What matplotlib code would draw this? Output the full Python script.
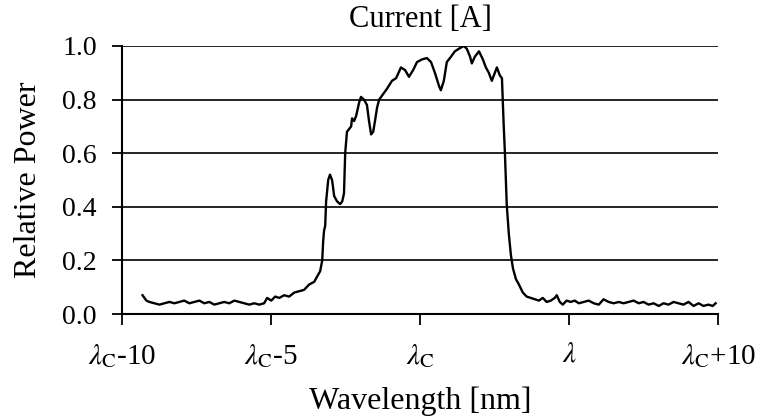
import matplotlib
matplotlib.use("Agg")
import matplotlib.pyplot as plt

# wavelength offset from the centre wavelength (nm) and relative power
offset_nm = [
    -9.31, -9.18, -9.08, -8.91, -8.74, -8.58, -8.41, -8.24, -8.07, -7.91,
    -7.74, -7.57, -7.40, -7.24, -7.07, -6.90, -6.73, -6.57, -6.40, -6.23,
    -6.06, -5.90, -5.73, -5.56, -5.39, -5.23, -5.13, -4.99, -4.86, -4.72,
    -4.56, -4.39, -4.22, -4.05, -3.89, -3.72, -3.55, -3.45, -3.35, -3.28,
    -3.25, -3.22, -3.18, -3.15, -3.08, -3.02, -2.95, -2.88, -2.78, -2.68,
    -2.61, -2.55, -2.51, -2.45, -2.38, -2.31, -2.28, -2.21, -2.14, -2.04,
    -1.98, -1.88, -1.78, -1.71, -1.64, -1.57, -1.51, -1.44, -1.37, -1.24,
    -1.11, -0.94, -0.80, -0.64, -0.50, -0.37, -0.23, -0.10, 0.07, 0.23,
    0.37, 0.50, 0.64, 0.70, 0.80, 0.90, 1.04, 1.17, 1.31, 1.47,
    1.57, 1.68, 1.74, 1.84, 1.98, 2.11, 2.21, 2.31, 2.41, 2.51,
    2.58, 2.68, 2.75, 2.81, 2.85, 2.88, 2.91, 2.98, 3.05, 3.12,
    3.22, 3.32, 3.45, 3.58, 3.72, 3.85, 3.99, 4.12, 4.25, 4.39,
    4.52, 4.59, 4.69, 4.79, 4.92, 5.06, 5.19, 5.33, 5.49, 5.66,
    5.83, 6.00, 6.16, 6.33, 6.50, 6.67, 6.83, 7.00, 7.17, 7.34,
    7.50, 7.67, 7.84, 8.01, 8.17, 8.34, 8.51, 8.68, 8.84, 9.01,
    9.18, 9.35, 9.51, 9.68, 9.82, 9.92,
]
power = [
    0.070, 0.050, 0.045, 0.040, 0.035, 0.040, 0.045, 0.040, 0.045, 0.050,
    0.040, 0.045, 0.050, 0.040, 0.045, 0.035, 0.040, 0.045, 0.040, 0.050,
    0.045, 0.040, 0.035, 0.040, 0.035, 0.040, 0.060, 0.050, 0.065, 0.060,
    0.070, 0.065, 0.080, 0.085, 0.090, 0.110, 0.120, 0.140, 0.160, 0.200,
    0.270, 0.310, 0.330, 0.420, 0.500, 0.520, 0.500, 0.440, 0.420, 0.410,
    0.420, 0.450, 0.600, 0.680, 0.690, 0.700, 0.730, 0.720, 0.740, 0.790,
    0.810, 0.800, 0.780, 0.720, 0.670, 0.680, 0.720, 0.770, 0.800, 0.820,
    0.840, 0.870, 0.880, 0.920, 0.910, 0.885, 0.910, 0.940, 0.950, 0.955,
    0.940, 0.900, 0.850, 0.835, 0.870, 0.940, 0.960, 0.980, 0.990, 1.000,
    0.990, 0.960, 0.935, 0.960, 0.980, 0.950, 0.920, 0.900, 0.870, 0.900,
    0.920, 0.890, 0.880, 0.700, 0.600, 0.500, 0.410, 0.300, 0.220, 0.170,
    0.130, 0.110, 0.080, 0.065, 0.060, 0.055, 0.050, 0.060, 0.045, 0.050,
    0.060, 0.070, 0.045, 0.035, 0.050, 0.045, 0.050, 0.040, 0.045, 0.050,
    0.040, 0.035, 0.055, 0.045, 0.040, 0.045, 0.040, 0.045, 0.050, 0.040,
    0.045, 0.035, 0.040, 0.030, 0.040, 0.035, 0.045, 0.040, 0.035, 0.045,
    0.030, 0.040, 0.030, 0.035, 0.030, 0.040,
]

x_ticks = [-10, -5, 0, 5, 10]
x_labels = [r"$\lambda_{\mathrm{C}}$-10", r"$\lambda_{\mathrm{C}}$-5",
            r"$\lambda_{\mathrm{C}}$", r"$\lambda$", r"$\lambda_{\mathrm{C}}$+10"]
y_ticks = [0.0, 0.2, 0.4, 0.6, 0.8, 1.0]

plt.rcParams["font.family"] = ["Liberation Serif", "DejaVu Serif"]
plt.rcParams["mathtext.fontset"] = "stix"

fig = plt.figure(figsize=(7.69, 4.18), dpi=100)
ax = fig.add_axes([0.1586, 0.2488, 0.7751, 0.6412])

ax.plot(offset_nm, power, color="black", linewidth=1.7)

ax.set_xlim(-10, 10)
ax.set_ylim(0, 1.0)
ax.set_xticks(x_ticks)
ax.set_xticklabels(x_labels)
ax.set_yticks(y_ticks)
ax.set_yticklabels([f"{v:.1f}" for v in y_ticks])

ax.yaxis.grid(True, color="black", linewidth=1.2)
ax.set_axisbelow(True)
for side in ("top", "right"):
    ax.spines[side].set_visible(False)
for side in ("left", "bottom"):
    ax.spines[side].set_linewidth(1.5)

ax.tick_params(axis="x", direction="out", length=8, width=1.3, pad=12, labelsize=21)
ax.tick_params(axis="y", direction="out", length=7, width=1.3, pad=11, labelsize=20)

ax.set_title("Current [A]", fontsize=22, pad=14)
ax.set_xlabel("Wavelength [nm]", fontsize=23, labelpad=12)
ax.set_ylabel("Relative Power", fontsize=23, labelpad=14)

fig.savefig("out.png", dpi=100)
